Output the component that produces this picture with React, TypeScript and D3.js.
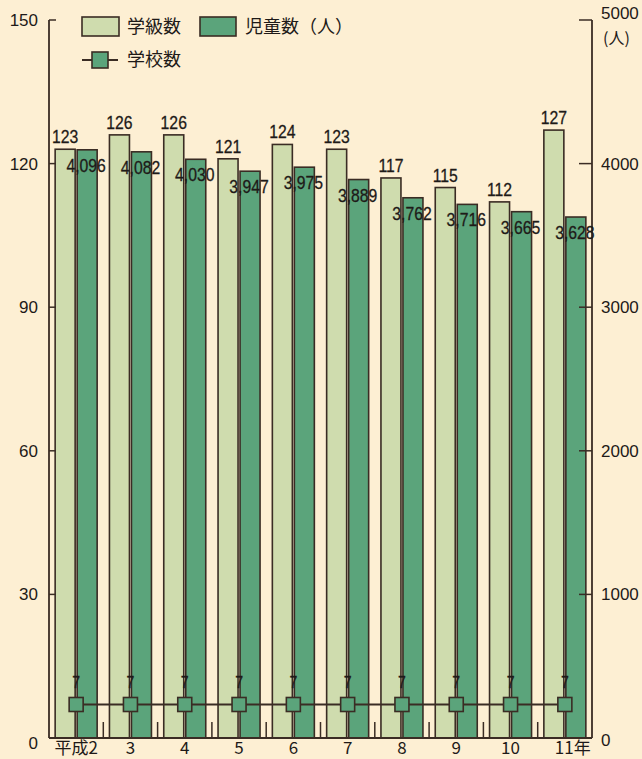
import React from "react";
import * as d3 from "d3";

const years = ["平成2", "3", "4", "5", "6", "7", "8", "9", "10", "11"];
const classes = [123, 126, 126, 121, 124, 123, 117, 115, 112, 127];
const students = [4096, 4082, 4030, 3947, 3975, 3889, 3762, 3716, 3665, 3628];
const schools = [7, 7, 7, 7, 7, 7, 7, 7, 7, 7];
const leftTicks = [0, 30, 60, 90, 120, 150];
const rightTicks = [0, 1000, 2000, 3000, 4000, 5000];

const W = 642, H = 759;
const X0 = 49, X1 = 592, Y0 = 738, Y1 = 20;
const BG = "#fdefd3";
const LIGHT = "#cfdcae";
const DARK = "#5ba47b";
const INK = "#3a2c24";
const TXT = "#1e1a18";
const FONT = "'Liberation Sans', Arial, sans-serif";
const JFONT = "'Noto Sans CJK JP', sans-serif";

function Narrow({ x, y, size, children }: { x: number; y: number; size: number; children: React.ReactNode }) {
  return (
    <text transform={`translate(${x},${y}) scale(0.83,1)`} textAnchor="middle" fontFamily={FONT} fontSize={size}
      fill={TXT} stroke={TXT} strokeWidth={0.3}>
      {children}
    </text>
  );
}

export default function App() {
  const x = d3.scaleBand<string>().domain(years).range([X0, X1]).paddingInner(0);
  const yL = d3.scaleLinear().domain([0, 150]).range([Y0, Y1]);
  const yR = d3.scaleLinear().domain([0, 5000]).range([Y0, Y1]);
  const fmt = d3.format(",");
  const c = (i: number) => (x(years[i]) as number) + x.bandwidth() / 2;
  const line = d3
    .line<number>()
    .x((_, i) => c(i))
    .y((d) => yL(d));

  return (
    <div style={{ position: "absolute", left: 0, top: 0 }}>
      <svg width={W} height={H} style={{ display: "block" }}>
        <rect x={0} y={0} width={W} height={H} fill={BG} />

        {/* bars */}
        {years.map((yr, i) => {
          const cx = c(i);
          return (
            <g key={yr}>
              <rect x={cx - 21} y={yL(classes[i])} width={20} height={Y0 - yL(classes[i])}
                fill={LIGHT} stroke={INK} strokeWidth={1.6} />
              <rect x={cx + 1} y={yR(students[i])} width={20} height={Y0 - yR(students[i])}
                fill={DARK} stroke={INK} strokeWidth={1.6} />
            </g>
          );
        })}

        {/* bottom tick marks between groups */}
        {years.slice(1).map((yr) => (
          <line key={"bt" + yr} x1={x(yr) as number} x2={x(yr) as number} y1={Y0} y2={Y0 - 16}
            stroke={INK} strokeWidth={1.5} />
        ))}

        {/* axes */}
        <line x1={X0} x2={X0} y1={Y1} y2={Y0} stroke={INK} strokeWidth={1.8} />
        <line x1={X1} x2={X1} y1={Y1} y2={Y0} stroke={INK} strokeWidth={1.8} />
        <line x1={X0} x2={X1} y1={Y0} y2={Y0} stroke={INK} strokeWidth={1.8} />
        {leftTicks.map((t) => (
          <g key={"l" + t}>
            {t > 0 && <line x1={X0} x2={X0 + 7} y1={yL(t)} y2={yL(t)} stroke={INK} strokeWidth={1.5} />}
            <text x={38} y={yL(t) + (t === 0 ? 11 : 6)} textAnchor="end" fontFamily={FONT} fontSize={17} fill={TXT}>
              {t}
            </text>
          </g>
        ))}
        {rightTicks.map((t) => (
          <g key={"r" + t}>
            {t > 0 && <line x1={X1} x2={X1 - 13} y1={yR(t)} y2={yR(t)} stroke={INK} strokeWidth={1.5} />}
            <text x={601} y={yR(t) + (t === 0 ? 8 : t === 5000 ? -1 : 6)} fontFamily={FONT} fontSize={17} fill={TXT}>
              {t}
            </text>
          </g>
        ))}
        <text x={603} y={44} fontFamily={JFONT} fontSize={16} fill={TXT}>(人)</text>

        {/* value labels */}
        {years.map((yr, i) => {
          const cx = c(i);
          return (
            <g key={"v" + yr}>
              <Narrow x={cx - 11} y={yL(classes[i]) - 6} size={19}>{classes[i]}</Narrow>
              <Narrow x={cx + 10} y={yR(students[i]) + 22} size={19}>{fmt(students[i])}</Narrow>
            </g>
          );
        })}

        {/* school line */}
        <path d={line(schools) as string} fill="none" stroke={INK} strokeWidth={2} />
        {schools.map((s, i) => (
          <g key={"s" + i}>
            <rect x={c(i) - 7} y={yL(s) - 7} width={14} height={14} fill={DARK} stroke={INK} strokeWidth={1.6} />
            <Narrow x={c(i)} y={yL(s) - 16} size={17}>{s}</Narrow>
          </g>
        ))}

        {/* x labels */}
        {years.map((yr, i) => {
          const last = i === years.length - 1;
          return (
            <text key={"x" + yr} x={last ? c(i) - 10 : c(i)} y={754} textAnchor={last ? "start" : "middle"}
              fontFamily={JFONT} fontSize={17} fill={TXT}>
              {yr}
              {last ? "年" : ""}
            </text>
          );
        })}

        {/* legend */}
        <rect x={82} y={17} width={37} height={19} fill={LIGHT} stroke={INK} strokeWidth={1.6} />
        <text x={127} y={33} fontFamily={JFONT} fontSize={18} fill={TXT}>学級数</text>
        <rect x={200} y={17} width={36} height={19} fill={DARK} stroke={INK} strokeWidth={1.6} />
        <text x={245} y={33} fontFamily={JFONT} fontSize={18} fill={TXT}>児童数（人）</text>
        <line x1={82} x2={118} y1={60} y2={60} stroke={INK} strokeWidth={2} />
        <rect x={92} y={52} width={16} height={16} fill={DARK} stroke={INK} strokeWidth={1.6} />
        <text x={127} y={66} fontFamily={JFONT} fontSize={18} fill={TXT}>学校数</text>
      </svg>
    </div>
  );
}
